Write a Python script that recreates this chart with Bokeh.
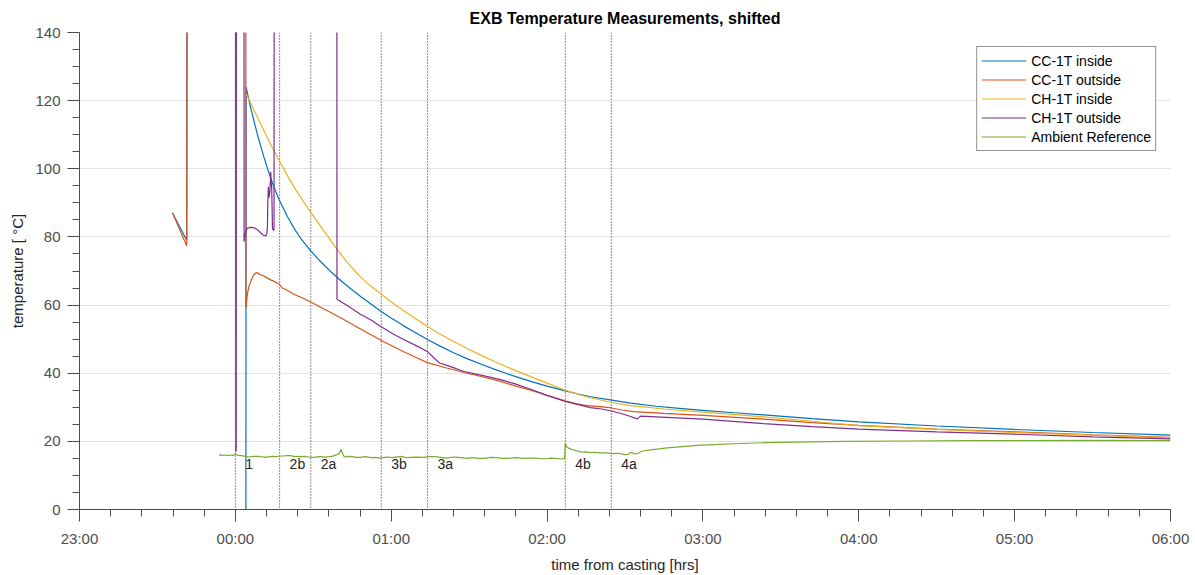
import math
from bokeh.plotting import figure
from bokeh.models import FixedTicker, Span, ColumnDataSource
from bokeh.core.properties import value
from bokeh.embed import file_html
from bokeh.resources import INLINE

nan = math.nan
HI = 300.0   # sensor reading far above the plotted range
LO = -50.0   # sensor reading far below the plotted range

# time axis: hours relative to casting (00:00)
tick_hours = [-1, 0, 1, 2, 3, 4, 5, 6]
tick_labels = ["23:00", "00:00", "01:00", "02:00", "03:00", "04:00", "05:00", "06:00"]
temp_ticks = [0, 20, 40, 60, 80, 100, 120, 140]

# casting / pour events
event_hours = [0.0, 0.284, 0.484, 0.936, 1.233, 2.117, 2.412]
event_names = ["1", "2b", "2a", "3b", "3a", "4b", "4a"]
event_label_temp = 13.3

# CC-1T inside
cc_in_t = [-0.403, -0.36, -0.312, -0.306, nan,
           0.067, 0.069, 0.085, 0.100, 0.120, 0.140, 0.163, 0.185, 0.206,
           0.227, 0.248, 0.280, 0.334, 0.380, 0.419, 0.484, 0.548, 0.612,
           0.676, 0.740, 0.804, 0.870, 0.933, 1.000, 1.080, 1.160, 1.232,
           1.320, 1.400, 1.490, 1.574, 1.660, 1.740, 1.820, 1.895, 2.000,
           2.117, 2.200, 2.280, 2.414, 2.536, 2.700, 2.850, 3.000, 3.200,
           3.389, 3.700, 4.000, 4.500, 5.000, 5.500, 6.0]
cc_in_v = [87.0, 83.2, 79.0, HI, nan,
           LO, 124.0, 120.6, 117.6, 114.0, 110.3, 106.6, 103.2, 100.1,
           97.2, 94.6, 91.0, 86.0, 82.3, 79.6, 75.9, 72.7, 69.8,
           67.2, 64.8, 62.5, 60.3, 58.2, 56.2, 53.9, 51.8, 49.9,
           47.8, 46.0, 44.2, 42.7, 41.2, 39.9, 38.7, 37.6, 36.2,
           34.8, 33.9, 33.1, 32.1, 31.2, 30.3, 29.7, 29.1, 28.4,
           27.8, 26.7, 25.7, 24.5, 23.5, 22.6, 21.8]

# CC-1T outside
cc_out_t = [-0.403, -0.36, -0.312, -0.306, 0.000, 0.002, 0.004, 0.066,
            0.068, 0.073, 0.078, 0.088, 0.099, 0.110, 0.120, 0.131, 0.142,
            0.152, 0.163, 0.180, 0.195, 0.227, 0.255, 0.280, 0.300, 0.334,
            0.380, 0.419, 0.484, 0.550, 0.612, 0.690, 0.762, 0.850, 0.933,
            1.010, 1.080, 1.160, 1.232, 1.350, 1.467, 1.590, 1.702, 1.800,
            1.895, 2.000, 2.117, 2.190, 2.258, 2.340, 2.414, 2.480, 2.556,
            2.750, 3.000, 3.389, 3.700, 4.000, 4.500, 5.000, 5.500, 6.0]
cc_out_v = [87.1, 82.5, 77.4, HI, HI, 17.0, HI, HI,
            59.1, 61.6, 63.5, 65.6, 67.0, 68.2, 68.9, 69.4, 69.5,
            69.1, 68.8, 68.6, 68.2, 67.4, 66.8, 66.2, 65.1, 64.3,
            63.1, 62.3, 60.9, 59.3, 57.8, 55.9, 54.0, 51.8, 49.7,
            47.9, 46.3, 44.6, 43.1, 41.6, 40.2, 38.9, 37.6, 36.2,
            35.0, 33.5, 31.9, 31.0, 30.5, 30.2, 29.8, 29.2, 28.7,
            28.2, 27.6, 26.5, 25.5, 24.7, 23.6, 22.8, 21.9, 21.2]

# CH-1T inside
ch_in_t = [0.069, 0.095, 0.120, 0.150, 0.184, 0.215, 0.248, 0.280, 0.334,
           0.380, 0.419, 0.484, 0.569, 0.655, 0.710, 0.761, 0.804, 0.870,
           0.933, 1.000, 1.080, 1.160, 1.232, 1.320, 1.400, 1.490, 1.574,
           1.660, 1.740, 1.820, 1.895, 2.000, 2.117, 2.200, 2.280, 2.414,
           2.536, 2.750, 3.000, 3.389, 3.700, 4.000, 4.500, 5.000, 5.500, 6.0]
ch_in_v = [122.0, 119.6, 117.2, 114.3, 111.1, 108.2, 105.3, 102.5, 98.0,
           94.4, 91.6, 87.2, 81.7, 76.2, 73.0, 70.3, 68.2, 65.5,
           63.3, 60.9, 58.3, 55.9, 53.7, 51.3, 49.3, 47.2, 45.3,
           43.5, 41.9, 40.4, 39.0, 37.1, 35.0, 33.8, 32.8, 31.4,
           30.5, 29.5, 28.6, 27.2, 25.9, 24.6, 23.5, 22.6, 21.8, 21.0]

# CH-1T outside
ch_out_t = [0.002, 0.005, 0.008, 0.055, 0.056, 0.063, 0.070, 0.078, 0.100,
            0.120, 0.140, 0.160, 0.180, 0.195, 0.202, 0.206, 0.208, 0.212,
            0.216, 0.221, 0.224, 0.227, 0.230, 0.233, 0.236, 0.238, 0.244,
            0.248, 0.251, 0.650, 0.652, 0.720, 0.800, 0.870, 0.933, 1.010,
            1.080, 1.160, 1.232, 1.283, 1.311, 1.390, 1.467, 1.590, 1.702,
            1.800, 1.895, 2.000, 2.117, 2.200, 2.278, 2.350, 2.414, 2.480,
            2.536, 2.578, 2.600, 2.700, 3.000, 3.389, 3.700, 4.000, 4.500,
            5.000, 5.500, 6.0]
ch_out_v = [HI, 17.0, HI, HI, 78.6, 80.8, 82.0, 82.6, 82.8,
            82.7, 82.2, 81.3, 80.5, 80.3, 81.0, 83.0, 90.0, 94.7,
            91.5, 93.2, 95.5, 99.1, 96.0, 94.7, 88.0, 82.5, 82.0,
            82.0, HI, HI, 61.7, 59.8, 57.4, 55.6, 53.7, 51.6,
            49.9, 48.1, 46.4, 44.1, 43.0, 41.8, 40.5, 39.3, 38.1,
            36.8, 35.3, 33.5, 31.7, 30.8, 29.9, 29.5, 28.9, 28.1,
            27.3, 26.6, 27.4, 27.2, 26.5, 25.2, 24.3, 23.6, 22.8,
            22.1, 21.3, 20.7]

# Ambient reference
amb_t = [-0.105, -0.085, -0.07, -0.05, -0.03, -0.015, 0.0, 0.02, 0.04,
         0.065, 0.09, 0.12, 0.15, 0.18, 0.21, 0.235, 0.26, 0.285, 0.31,
         0.335, 0.355, 0.38, 0.40, 0.42, 0.445, 0.47, 0.50, 0.54, 0.58,
         0.62, 0.65, 0.665, 0.679, 0.69, 0.70, 0.725, 0.75, 0.775, 0.80,
         0.835, 0.87, 0.90, 0.93, 0.955, 0.98, 1.005, 1.03, 1.065, 1.10,
         1.15, 1.21, 1.245, 1.28, 1.315, 1.35, 1.40, 1.45, 1.485, 1.52,
         1.56, 1.60, 1.64, 1.68, 1.715, 1.75, 1.80, 1.85, 1.89, 1.93,
         1.965, 2.00, 2.025, 2.05, 2.08, 2.112, 2.117, 2.125, 2.14, 2.16,
         2.19, 2.225, 2.25, 2.28, 2.31, 2.337, 2.38, 2.42, 2.46, 2.495,
         2.52, 2.54, 2.56, 2.585, 2.606, 2.66, 2.72, 2.77, 2.83, 2.90,
         2.985, 3.1, 3.2, 3.4, 3.6, 3.9, 4.3, 4.7, 5.0, 5.5, 6.0]
amb_v = [16.1, 15.9, 16.0, 15.8, 16.0, 15.9, 16.2, 15.9, 15.8,
         15.6, 15.4, 15.6, 15.6, 15.4, 15.4, 15.6, 15.5, 15.7, 15.7,
         15.8, 15.8, 15.5, 15.6, 15.5, 15.6, 15.4, 15.3, 15.5, 15.4,
         15.6, 16.1, 16.4, 17.6, 16.2, 15.4, 15.6, 15.5, 15.3, 15.3,
         15.5, 15.2, 15.3, 15.1, 15.3, 15.4, 15.2, 15.4, 15.6, 15.2,
         15.4, 15.3, 15.5, 15.5, 15.3, 15.1, 15.4, 15.2, 15.0, 15.2,
         15.0, 15.0, 15.3, 15.2, 15.0, 15.0, 15.2, 15.0, 15.1, 15.1,
         14.9, 14.9, 15.1, 15.0, 14.9, 14.9, 19.5, 18.4, 18.0, 17.6,
         17.2, 16.8, 16.9, 16.7, 16.8, 16.6, 16.6, 16.4, 16.5, 16.1,
         16.2, 16.8, 16.3, 16.5, 17.1, 17.5, 17.8, 18.1, 18.3, 18.6,
         18.9, 19.1, 19.3, 19.6, 19.8, 20.0, 20.1, 20.2, 20.2, 20.3, 20.2]

series = [
    (cc_in_t, cc_in_v, "#0072BD", "CC-1T inside"),
    (cc_out_t, cc_out_v, "#D95319", "CC-1T outside"),
    (ch_in_t, ch_in_v, "#EDB120", "CH-1T inside"),
    (ch_out_t, ch_out_v, "#7E2F8E", "CH-1T outside"),
    (amb_t, amb_v, "#77AC30", "Ambient Reference"),
]

FONT = "Liberation Sans"
AXIS_GRAY = "#4d4d4d"

p = figure(width=1195, height=575, x_range=(-1, 6), y_range=(0, 140),
           output_backend="svg", toolbar_location=None,
           title="EXB Temperature Measurements, shifted",
           min_border_left=79, min_border_right=25,
           min_border_top=32, min_border_bottom=65)
p.outline_line_color = None
p.background_fill_color = "white"

p.title.align = "center"
p.title.text_font = FONT
p.title.text_font_size = "16px"
p.title.text_font_style = "bold"
p.title.text_color = "#000000"
p.title.standoff = 12

for h in event_hours:
    p.add_layout(Span(location=h, dimension="height", line_color="#222222",
                      line_width=1, line_dash="1 2", level="underlay"))

for t, v, color, name in series:
    p.line(t, v, line_color=color, line_width=1.2, legend_label=name)

ev_src = ColumnDataSource(dict(x=event_hours, y=[event_label_temp] * len(event_hours),
                               txt=event_names))
p.text(x="x", y="y", text="txt", source=ev_src, x_offset=10,
       text_align="left", text_baseline="middle",
       text_font=value(FONT), text_font_size=value("14px"), text_color="#262626")

p.xaxis.ticker = FixedTicker(ticks=tick_hours,
                             minor_ticks=[i * 0.2 for i in range(-5, 31)])
p.xaxis.major_label_overrides = {h: lab for h, lab in zip(tick_hours, tick_labels)}
p.yaxis.ticker = FixedTicker(ticks=temp_ticks, minor_ticks=list(range(0, 141, 5)))

p.xaxis.axis_label = "time from casting [hrs]"
p.yaxis.axis_label = "temperature [ °C]"

for ax in (p.xaxis[0], p.yaxis[0]):
    ax.axis_line_color = AXIS_GRAY
    ax.major_tick_line_color = AXIS_GRAY
    ax.minor_tick_line_color = AXIS_GRAY
    ax.major_tick_out = 12
    ax.major_tick_in = 0
    ax.minor_tick_out = 7
    ax.minor_tick_in = 0
    ax.major_label_text_font = FONT
    ax.major_label_text_font_size = "15px"
    ax.major_label_text_color = AXIS_GRAY
    ax.axis_label_text_font = FONT
    ax.axis_label_text_font_size = "15px"
    ax.axis_label_text_font_style = "normal"
    ax.axis_label_text_color = "#262626"

p.xaxis.major_label_standoff = 8
p.xaxis.axis_label_standoff = 6
p.yaxis.major_label_standoff = 7
p.yaxis.axis_label_standoff = 6

p.xgrid.visible = False
p.ygrid.grid_line_color = "#e3e3e3"
p.ygrid.grid_line_width = 1

lg = p.legend[0]
lg.location = "top_right"
lg.margin = 14
lg.padding = 4
lg.spacing = 0
lg.glyph_width = 45
lg.glyph_height = 19
lg.label_height = 19
lg.label_standoff = 5
lg.label_text_font = FONT
lg.label_text_font_size = "14px"
lg.label_text_color = "#000000"
lg.border_line_color = "#262626"
lg.border_line_width = 1
lg.background_fill_color = "white"
lg.background_fill_alpha = 1.0

open("out.html", "w").write(file_html(p, INLINE))
